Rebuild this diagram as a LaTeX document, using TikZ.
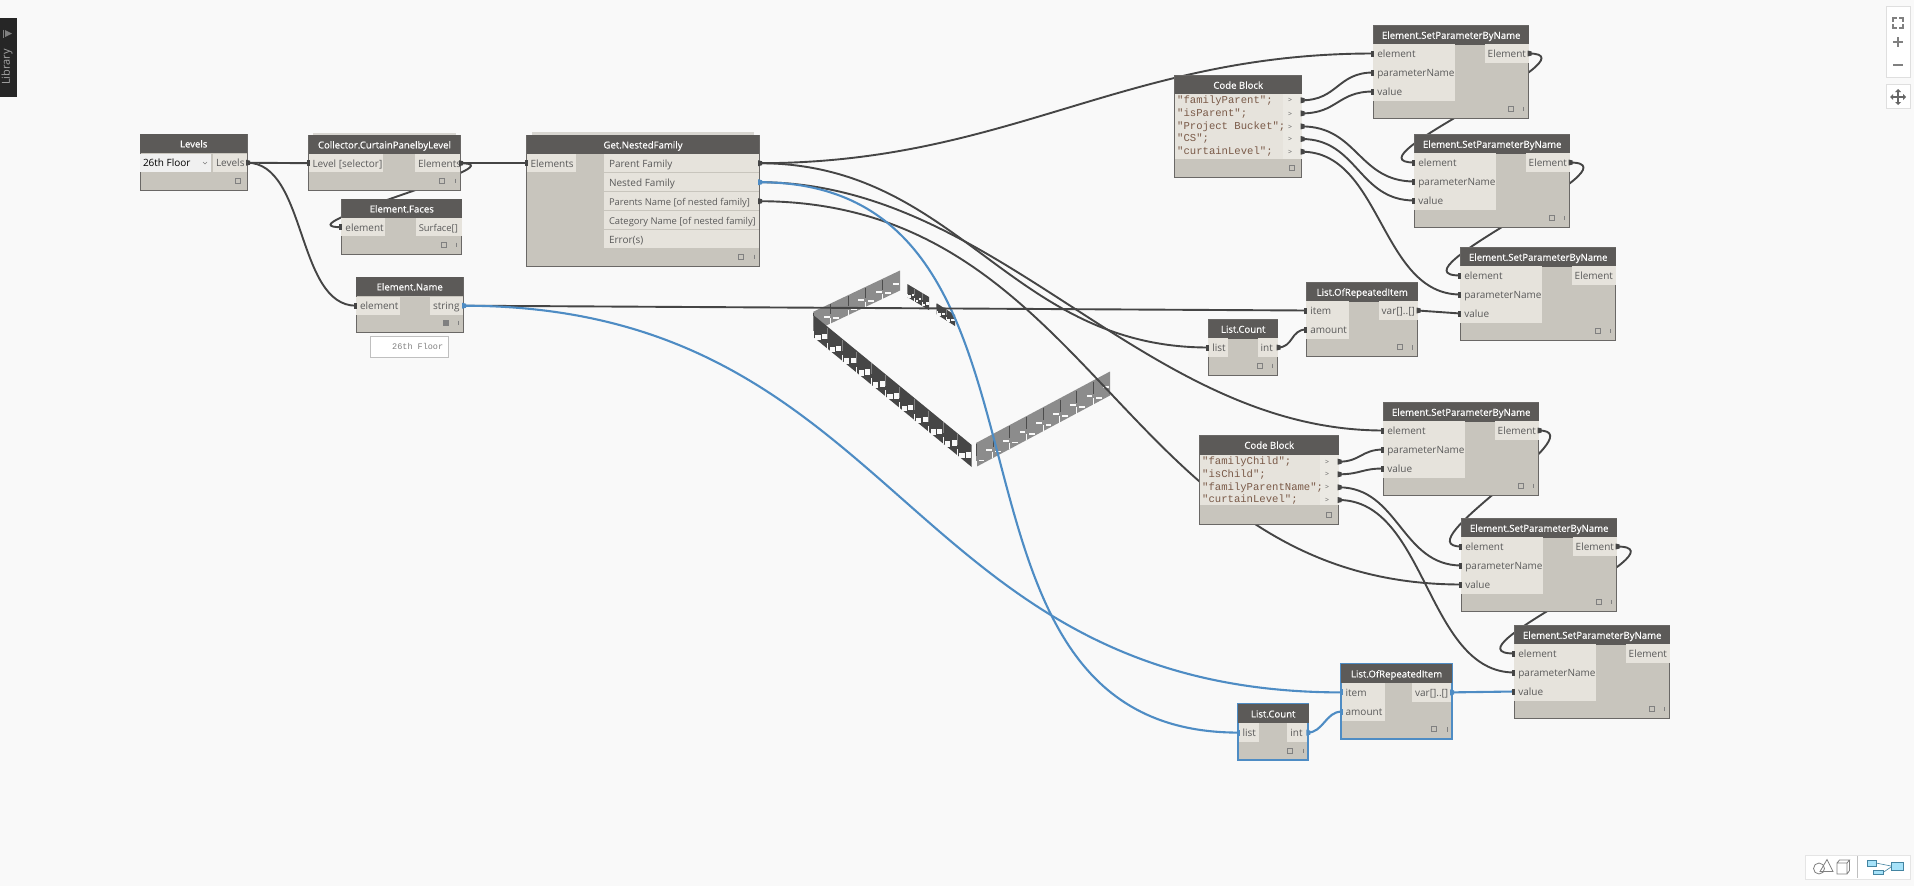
\documentclass[tikz,border=0pt]{standalone}
\usepackage{fontspec}
\setmainfont{Open Sans}
\newfontfamily\codefont{Liberation Mono}
\newfontfamily\headfont[FakeBold=0.5]{Open Sans}
\usetikzlibrary{calc}
\definecolor{canvasbg}{HTML}{F9F9F9}
\definecolor{headbg}{HTML}{5C5A58}
\definecolor{bodybg}{HTML}{C8C5BD}
\definecolor{rowbg}{HTML}{E6E3DC}
\definecolor{rowtxt}{HTML}{5A5A5A}
\definecolor{edgecol}{HTML}{6A6866}
\definecolor{wirecol}{HTML}{454545}
\definecolor{bluecol}{HTML}{4E8CC4}
\definecolor{wallgray}{HTML}{8C8C8C}
\definecolor{walldark}{HTML}{464646}
\definecolor{codetxt}{HTML}{7A5A48}
\pgfdeclarelayer{geo}\pgfdeclarelayer{wires}
\pgfsetlayers{geo,wires,main}
\tikzset{
  x=1pt,y=-1pt,
  nodebox/.style={draw=edgecol,line width=.9pt,fill=bodybg},
  nodeboxsel/.style={draw=bluecol,line width=1.8pt,fill=bodybg},
  headbox/.style={fill=headbg,text=white,font=\fontsize{9.6}{12}\headfont,inner sep=0pt,anchor=north west,text height=9.5pt,text depth=2pt},
  rowbox/.style={fill=rowbg,text=rowtxt,font=\fontsize{10}{12}\selectfont,inner sep=0pt,outer sep=0pt,anchor=north west,minimum height=18.4pt,text height=10pt,text depth=2.1pt},
  wire/.style={draw=wirecol,line width=1.9pt},
  bluewire/.style={draw=bluecol,line width=2.1pt},
  foot/.style={draw=gray,line width=.7pt,fill=none},
}
\newcommand{\dyn}[7][nodebox]{%
  % [style]{name}{x1}{y1}{x2}{y2}{title}
  \node[#1,inner sep=0pt,outer sep=0pt,anchor=north west,minimum width=#5pt-#3pt,minimum height=#6pt-#4pt] (#2) at (#3,#4) {};
  \node[headbox,minimum width=#5pt-#3pt,minimum height=19pt] (#2-h) at (#3,#4) {#7};
}
% rows: name, x, ytop, width, text
\newcommand{\inr}[5]{\node[rowbox] (#1) at (#2,#3) {\makebox[#4pt][l]{\hspace*{4pt}#5}};\fill[wirecol] (#2,#3+9.2)++(-2,-3)--++(3,0)--++(0,6)--++(-3,0)--cycle;}
\newcommand{\inrb}[5]{\node[rowbox] (#1) at (#2,#3) {\makebox[#4pt][l]{\hspace*{4pt}#5}};\fill[bluecol] (#2,#3+9.2)++(-2,-3)--++(3,0)--++(0,6)--++(-3,0)--cycle;}
\newcommand{\outr}[5]{\node[rowbox,anchor=north east] (#1) at (#2,#3) {\makebox[#4pt][l]{\hspace*{3pt}#5}};\fill[wirecol] (#2-1,#3+9.2)++(0,-3)--++(4,1)--++(0,4)--++(-4,1)--cycle;}
\newcommand{\outrb}[5]{\node[rowbox,anchor=north east] (#1) at (#2,#3) {\makebox[#4pt][l]{\hspace*{3pt}#5}};\fill[bluecol] (#2-1,#3+9.2)++(0,-3)--++(4,1)--++(0,4)--++(-4,1)--cycle;}
\newcommand{\outp}[5]{\node[rowbox,anchor=north east] (#1) at (#2,#3) {\makebox[#4pt][l]{\hspace*{3pt}#5}};}
% footer icons
\newcommand{\footi}[2]{\draw[foot] (#1-20.5,#2-12) rectangle ++(5,5);\draw[foot] (#1-5,#2-11.5)--++(0,4.5);}
\newcommand{\footo}[2]{\draw[foot] (#1-12,#2-12) rectangle ++(5,5);}
% SetParameter node: name x y outmacro
\newcommand{\setp}[4]{%
  \dyn{#1}{#2}{#3}{#2+155.4}{#3+93}{Element.SetParameterByName}
  \inr{#1-e}{#2}{#3+19}{81.5}{element}
  \inr{#1-p}{#2}{#3+38}{81.5}{parameterName}
  \inr{#1-v}{#2}{#3+57}{81.5}{value}
  #4{#1-o}{#2+155.4}{#3+19}{44}{Element}
  \footi{#2+155.4}{#3+93}
}
% wall: x1 y1 x2 y2 h n colour linecolour
\newcommand{\wallseg}[8]{%
  \pgfmathsetmacro{\ddx}{(#3-#1)/#6}\pgfmathsetmacro{\ddy}{(#4-#2)/#6}
  \begin{scope}[shift={(#1,#2)},x={(\ddx pt,-\ddy pt)},y={(0pt,-#5pt)}]
    \fill[#7] (0,0)--(#6,0)--(#6,1)--(0,1)--cycle;
    \foreach \i in {1,...,#6}{
      \pgfmathsetmacro{\ii}{\i-1}
      \draw[#8,line width=.5pt] (\ii,.05)--(\ii,.55);
      \fill[canvasbg] (\ii+.6,.54) rectangle (\ii+.95,.60);
      \fill[canvasbg] (\ii+.15,.82) rectangle (\ii+.5,.88);
      \fill[canvasbg] (\ii-.02,.74) rectangle (\ii+.02,1.02);
    }
  \end{scope}}
\begin{document}
\begin{tikzpicture}
\useasboundingbox (0,0) rectangle (1914,886);
\begin{pgfonlayer}{geo}
\fill[canvasbg] (0,0) rectangle (1914,886);
\end{pgfonlayer}
% ---- nodes
\dyn{lev}{140}{134}{247}{190}{Levels}
\node[rowbox,fill=gray!12,text=black] (levsel) at (140,153.5) {\makebox[71pt][l]{\hspace*{3pt}26th Floor}};
\draw[gray,line width=.6pt] (203,162)--(205,164)--(207,162);
\outr{lev-o}{247}{153.5}{34}{Levels}
\footo{247}{190}
%
\fill[bodybg!70!white] (313,132.5) rectangle (456,135);
\dyn{col}{308.5}{135}{460}{190}{Collector.CurtainPanelbyLevel}
\inr{col-i}{308.5}{154}{74}{Level [selector]}
\outr{col-o}{460}{154}{45}{Elements}
\footi{460}{190}
%
\dyn{fac}{341.4}{199}{461.8}{254}{Element.Faces}
\inr{fac-i}{341.4}{218}{44}{element}
\outp{fac-o}{461.8}{218}{46}{\fontsize{9.4}{12}\selectfont Surface[]}
\footi{461.8}{254}
%
\fill[bodybg!70!white] (532,132) rectangle (754,135);
\dyn{gnf}{526.6}{135}{759}{266}{Get.NestedFamily}
\inr{gnf-i}{526.6}{154}{49}{Elements}
\outr{gnf-1}{759}{154}{155}{\hspace*{2pt}Parent Family}
\outrb{gnf-2}{759}{173}{155}{\hspace*{2pt}Nested Family}
\outr{gnf-3}{759}{192}{155}{\hspace*{2pt}\fontsize{9.4}{12}\selectfont Parents Name [of nested family]}
\outp{gnf-4}{759}{211}{155}{\hspace*{2pt}\fontsize{9.4}{12}\selectfont Category Name [of nested family]}
\outp{gnf-5}{759}{230}{155}{\hspace*{2pt}Error(s)}
\footi{759}{266}
%
\dyn{enm}{356}{277}{463}{332}{Element.Name}
\inr{enm-i}{356}{296.5}{44}{element}
\outrb{enm-o}{463}{296.5}{33}{string}
\fill[gray] (442.5,320) rectangle ++(6,6);
\draw[foot] (458,320.5)--++(0,4.5);
\node[draw=gray!50,fill=white,line width=.6pt,minimum width=78pt,minimum height=21pt,inner sep=0pt,anchor=north west,text=gray,font=\codefont\fontsize{8.5}{10}\selectfont] (note) at (370.4,336) {\hspace*{16pt}26th Floor};
% SetParameter
\setp{sp1}{1373.3}{25.3}{\outr}
\setp{sp2}{1414.3}{134.3}{\outr}
\setp{sp3}{1460.3}{247.3}{\outp}
\setp{sp4}{1383.3}{402.3}{\outr}
\setp{sp5}{1461.3}{518.3}{\outr}
\setp{sp6}{1514.3}{625.3}{\outp}
% Code block 1
\dyn{cb1}{1174.3}{75.3}{1301.7}{177.3}{Code Block}
\node[fill=rowbg,inner sep=0pt,anchor=north west,minimum width=108.4pt,minimum height=64.6pt] (cb1t) at (1174.3,93.7) {};
\node[fill=rowbg!80!white,inner sep=0pt,anchor=north west,minimum width=19pt,minimum height=64.6pt] (cb1r) at (1282.7,93.7) {};
\foreach \n/\t/\y in {1/"familyParent";/100.3,2/"isParent";/113.4,3/"Project Bucket";/126.4,4/"CS";/139,5/"curtainLevel";/151.7}{
  \node[anchor=west,inner sep=0pt,text=codetxt,font=\codefont\fontsize{10.6}{12}\selectfont] (cb1l\n) at (1177,\y) {\t};
  \node[inner sep=0pt,text=rowtxt,font=\fontsize{7}{7}\selectfont] (cb1g\n) at (1290,\y+.5) {>};
  \coordinate (cb1o\n) at (1301.7,\y);
  \fill[wirecol] (1300.7,\y-3)--++(4,1)--++(0,4)--++(-4,1)--cycle;
}
\footo{1301.7}{177.3}
% Code block 2
\dyn{cb2}{1199.3}{435.3}{1338.7}{524.3}{Code Block}
\node[fill=rowbg,inner sep=0pt,anchor=north west,minimum width=120pt,minimum height=50.3pt] (cb2t) at (1199.3,454.7) {};
\node[fill=rowbg!80!white,inner sep=0pt,anchor=north west,minimum width=19.4pt,minimum height=50.3pt] (cb2r) at (1319.3,454.7) {};
\foreach \n/\t/\y in {1/"familyChild";/461.7,2/"isChild";/474.3,3/"familyParentName";/487.3,4/"curtainLevel";/500}{
  \node[anchor=west,inner sep=0pt,text=codetxt,font=\codefont\fontsize{10.6}{12}\selectfont] (cb2l\n) at (1202,\y) {\t};
  \node[inner sep=0pt,text=rowtxt,font=\fontsize{7}{7}\selectfont] (cb2g\n) at (1327,\y+.5) {>};
  \coordinate (cb2o\n) at (1338.7,\y);
  \fill[wirecol] (1337.7,\y-3)--++(4,1)--++(0,4)--++(-4,1)--cycle;
}
\footo{1338.7}{524.3}
% List nodes 1
\dyn{lor1}{1306.3}{282.3}{1417.7}{356.5}{List.OfRepeatedItem}
\inr{lor1-i}{1306.3}{301.3}{43}{item}
\inr{lor1-a}{1306.3}{320.3}{43}{amount}
\outr{lor1-o}{1417.7}{301.3}{39}{var[]..[]}
\footi{1417.7}{356.5}
\dyn{lc1}{1208.3}{319.3}{1277.7}{375}{List.Count}
\inr{lc1-i}{1208.3}{338.3}{20}{list}
\outr{lc1-o}{1277.7}{338.3}{20}{int}
\footi{1277.7}{375}
% List nodes 2 selected
\dyn[nodeboxsel]{lor2}{1340.7}{664}{1452}{738.7}{List.OfRepeatedItem}
\inrb{lor2-i}{1341.6}{683.2}{43}{item}
\inrb{lor2-a}{1341.6}{702.4}{43}{amount}
\outrb{lor2-o}{1451.1}{683.2}{39}{var[]..[]}
\footi{1452}{738.7}
\dyn[nodeboxsel]{lc2}{1237.7}{704}{1308.3}{760}{List.Count}
\inrb{lc2-i}{1238.6}{723.4}{20}{list}
\outrb{lc2-o}{1307.4}{723.4}{20}{int}
\footi{1308.3}{760}
% ---- wires
\begin{pgfonlayer}{wires}
\draw[wire] (lev-o.east) -- (col-i.west);
\draw[wire] (lev-o.east) .. controls +(60,0) and +(-60,0) .. (enm-i.west);
\draw[wire] (col-o.east) -- (gnf-i.west);
\draw[wire] (col-o.east) .. controls +(65,0) and +(-65,0) .. (fac-i.west);
\draw[wire] (gnf-1.east) .. controls +(250,0) and +(-250,0) .. (sp1-e.west);
\draw[wire] (gnf-1.east) .. controls +(200,0) and +(-200,0) .. (lc1-i.west);
\draw[wire] (gnf-2.east) .. controls +(240,0) and +(-240,0) .. (sp4-e.west);
\draw[wire] (gnf-3.east) .. controls +(340,0) and +(-340,0) .. (sp5-v.west);
\draw[bluewire] (gnf-2.east) .. controls +(335,0) and +(-335,0) .. (lc2-i.west);
\draw[wire] (enm-o.east) -- (lor1-i.west);
\draw[bluewire] (enm-o.east) .. controls +(440,0) and +(-440,0) .. (lor2-i.west);
\draw[wire] (lc1-o.east) .. controls +(16,0) and +(-16,0) .. (lor1-a.west);
\draw[bluewire] (lc2-o.east) .. controls +(16,0) and +(-16,0) .. (lor2-a.west);
\draw[wire] (lor1-o.east) -- (sp3-v.west);
\draw[bluewire] (lor2-o.east) -- (sp6-v.west);
\draw[wire] (sp1-o.east) .. controls +(72,0) and +(-72,0) .. (sp2-e.west);
\draw[wire] (sp2-o.east) .. controls +(75,0) and +(-75,0) .. (sp3-e.west);
\draw[wire] (sp4-o.east) .. controls +(60,0) and +(-60,0) .. (sp5-e.west);
\draw[wire] (sp5-o.east) .. controls +(75,0) and +(-75,0) .. (sp6-e.west);
\draw[wire] (cb1o1) .. controls +(36,0) and +(-36,0) .. (sp1-p.west);
\draw[wire] (cb1o2) .. controls +(36,0) and +(-36,0) .. (sp1-v.west);
\draw[wire] (cb1o3) .. controls +(56,0) and +(-56,0) .. (sp2-p.west);
\draw[wire] (cb1o4) .. controls +(56,0) and +(-56,0) .. (sp2-v.west);
\draw[wire] (cb1o5) .. controls +(80,0) and +(-80,0) .. (sp3-p.west);
\draw[wire] (cb2o1) .. controls +(22,0) and +(-22,0) .. (sp4-p.west);
\draw[wire] (cb2o2) .. controls +(22,0) and +(-22,0) .. (sp4-v.west);
\draw[wire] (cb2o3) .. controls +(60,0) and +(-60,0) .. (sp5-p.west);
\draw[wire] (cb2o4) .. controls +(88,0) and +(-88,0) .. (sp6-p.west);
\end{pgfonlayer}
% ---- 3D preview
\begin{pgfonlayer}{geo}
\wallseg{813.3}{311.7}{900}{270.5}{20}{5}{wallgray}{gray!60!black}
\wallseg{813.3}{315}{971.7}{445}{22}{11}{walldark}{gray}
\wallseg{976}{443}{1110}{371.5}{24}{8}{wallgray}{gray!60!black}
\wallseg{907.3}{284}{929}{297}{13}{3}{walldark}{gray}
\wallseg{936.7}{303.3}{955}{315}{11}{2}{walldark}{gray}
\end{pgfonlayer}
% ---- chrome
\fill[black!85] (0,18) rectangle (17,97);
\node[rotate=90,text=gray!70,font=\fontsize{11}{12}\selectfont,inner sep=0pt] (lib) at (7,67) {Library};
\fill[gray] (5,30)--(12,33.5)--(5,37)--cycle;
\draw[gray,line width=.8pt] (3.5,29.5)--(3.5,37.5);
\node[fill=white,draw=gray!25,line width=.5pt,minimum width=24pt,minimum height=71pt,inner sep=0pt,anchor=north west] (zoombar) at (1886,6) {};
\node[fill=white,draw=gray!25,line width=.5pt,minimum width=24pt,minimum height=24pt,inner sep=0pt,anchor=north west] (panbar) at (1886,84) {};
\begin{scope}[draw=gray,line width=1.2pt]
\draw (1893,22)--(1893,18)--(1897,18) (1899,18)--(1903,18)--(1903,22) (1893,24)--(1893,28)--(1897,28) (1899,28)--(1903,28)--(1903,24);
\draw (1893,42)--(1903,42) (1898,37)--(1898,47);
\draw (1893,65)--(1903,65);
\draw[line width=1.6pt,gray!80!black] (1892,97)--(1904,97) (1898,91)--(1898,103);
\fill[gray!80!black] (1898,89)--(1895,92)--(1901,92)--cycle (1898,105)--(1895,102)--(1901,102)--cycle (1890,97)--(1893,94)--(1893,100)--cycle (1906,97)--(1903,94)--(1903,100)--cycle;
\end{scope}
\node[fill=white,draw=gray!20,line width=.5pt,minimum width=105pt,minimum height=24pt,inner sep=0pt,anchor=north west] (viewbar) at (1805,855) {};
\draw[gray!50] (1857,856)--(1857,878);
\draw[gray,line width=.8pt] (1819,868.5) circle (5.5);
\draw[gray,line width=.8pt] (1827,859.5)--(1820,871.5)--(1833,871.5)--cycle;
\draw[gray,line width=.8pt] (1837,863) rectangle ++(10,11) (1837,863)--++(2.5,-3)--++(10,0)--++(-2.5,3) (1849.5,860)--++(0,10.5)--(1847,874);
\fill[cyan!35!white,draw=cyan!60!black,line width=.6pt] (1867,860) rectangle ++(9,6) (1873,870.5) rectangle ++(10,4) (1891,862.5) rectangle ++(12,8);
\draw[cyan!60!black,line width=.6pt] (1876,863)--(1891,866) (1883,872.5)--(1891,867);
\end{tikzpicture}
\end{document}
